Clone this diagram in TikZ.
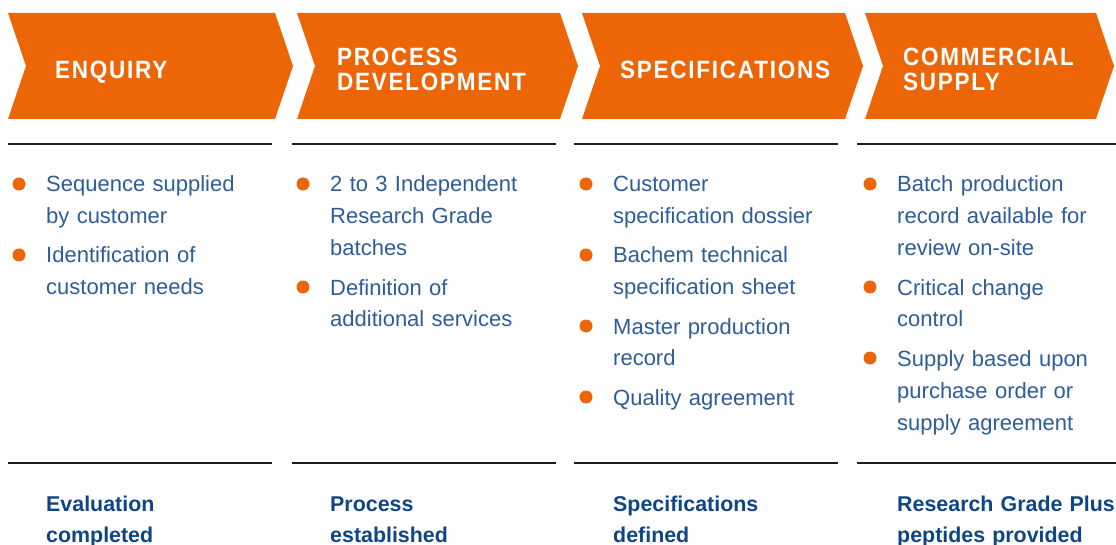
\documentclass[tikz,border=0pt]{standalone}
\usepackage{fontspec}
\setmainfont{Liberation Sans}
\newfontfamily\headfont[LetterSpace=7, FakeStretch=0.9]{Liberation Sans}
\definecolor{bachemorange}{HTML}{EC6608}
\definecolor{textblue}{HTML}{2D5D98}
\definecolor{darkblue}{HTML}{104585}
\definecolor{rulegray}{HTML}{1E1E1E}
\tikzset{
  chevron/.style={fill=bachemorange, draw=none},
  title/.style={anchor=base west, text=white, inner sep=0pt, text width=250pt, align=left,
    font=\headfont\bfseries\fontsize{25}{25}\selectfont},
  item/.style={anchor=base west, text=textblue, inner sep=0pt, text width=260pt, align=left,
    font=\fontsize{22}{32}\selectfont},
  dot/.style={circle, fill=bachemorange, inner sep=0pt, minimum size=13pt},
  rule/.style={draw=rulegray, line width=1.6pt},
  result/.style={anchor=base west, text=darkblue, inner sep=0pt, text width=240pt, align=left,
    font=\bfseries\fontsize{21.4}{31}\selectfont}
}
\begin{document}
\begin{tikzpicture}[x=1pt, y=-1pt]
\useasboundingbox (0,0) rectangle (1116,545);
\fill[chevron] (8,13) -- (275,13) -- (293,66) -- (275,119) -- (8,119) -- (26,66) -- cycle;
\fill[chevron] (297,13) -- (560,13) -- (578,66) -- (560,119) -- (297,119) -- (315,66) -- cycle;
\fill[chevron] (582,13) -- (845,13) -- (863,66) -- (845,119) -- (582,119) -- (600,66) -- cycle;
\fill[chevron] (865,13) -- (1096,13) -- (1114,66) -- (1096,119) -- (865,119) -- (883,66) -- cycle;
\node[title] (tenq) at (55,79) {ENQUIRY};
\node[title] (tproc) at (337,66) {PROCESS\\DEVELOPMENT};
\node[title] (tspec) at (620,79) {SPECIFICATIONS};
\node[title] (tcomm) at (903,66) {COMMERCIAL\\SUPPLY};
\coordinate (r1a) at (8,144); \coordinate (r1b) at (272,144);
\coordinate (r2a) at (292,144); \coordinate (r2b) at (556,144);
\coordinate (r3a) at (574,144); \coordinate (r3b) at (838,144);
\coordinate (r4a) at (857,144); \coordinate (r4b) at (1116,144);
\draw[rule] (r1a) -- (r1b);
\draw[rule] (r2a) -- (r2b);
\draw[rule] (r3a) -- (r3b);
\draw[rule] (r4a) -- (r4b);
\node[dot] (d11) at (19,184){};
\node[item] (i11) at (46,192) {Sequence supplied\\by customer};
\node[dot] (d12) at (19,255){};
\node[item] (i12) at (46,263) {Identification of\\customer needs};
\node[dot] (d21) at (303,184){};
\node[item] (i21) at (330,192) {2 to 3 Independent\\Research Grade\\batches};
\node[dot] (d22) at (303,287){};
\node[item] (i22) at (330,295) {Definition of\\additional services};
\node[dot] (d31) at (586,184){};
\node[item] (i31) at (613,192) {Customer\\specification dossier};
\node[dot] (d32) at (586,255){};
\node[item] (i32) at (613,263) {Bachem technical\\specification sheet};
\node[dot] (d33) at (586,326){};
\node[item] (i33) at (613,334) {Master production\\record};
\node[dot] (d34) at (586,397){};
\node[item] (i34) at (613,405) {Quality agreement};
\node[dot] (d41) at (870,184){};
\node[item] (i41) at (897,192) {Batch production\\record available for\\review on-site};
\node[dot] (d42) at (870,287){};
\node[item] (i42) at (897,295) {Critical change\\control};
\node[dot] (d43) at (870,358){};
\node[item] (i43) at (897,366) {Supply based upon\\purchase order or\\supply agreement};
\coordinate (b1a) at (8,463); \coordinate (b1b) at (272,463);
\coordinate (b2a) at (292,463); \coordinate (b2b) at (556,463);
\coordinate (b3a) at (574,463); \coordinate (b3b) at (838,463);
\coordinate (b4a) at (857,463); \coordinate (b4b) at (1116,463);
\draw[rule] (b1a) -- (b1b);
\draw[rule] (b2a) -- (b2b);
\draw[rule] (b3a) -- (b3b);
\draw[rule] (b4a) -- (b4b);
\node[result] (res1) at (46,511) {Evaluation\\completed};
\node[result] (res2) at (330,511) {Process\\established};
\node[result] (res3) at (613,511) {Specifications\\defined};
\node[result] (res4) at (897,511) {Research Grade Plus\\peptides provided};
\end{tikzpicture}
\end{document}
